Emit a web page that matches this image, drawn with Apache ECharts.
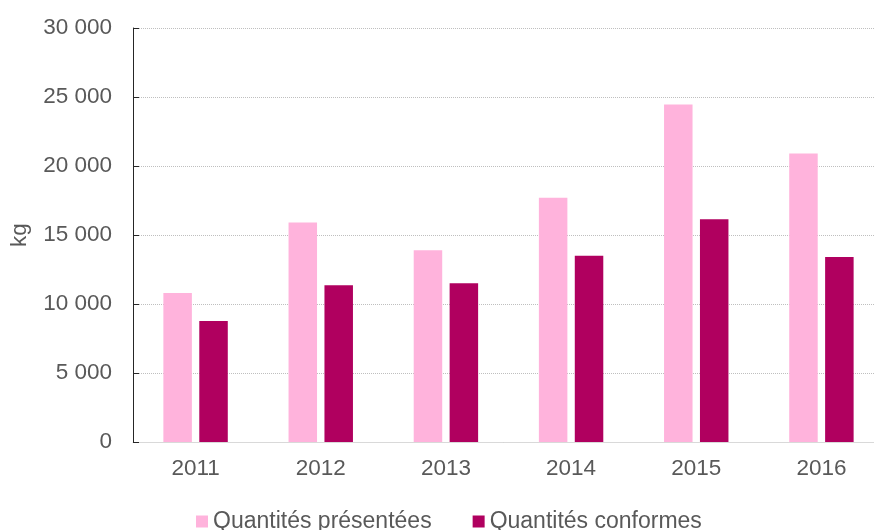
<!DOCTYPE html>
<html>
<head>
<meta charset="utf-8">
<script src="https://cdn.jsdelivr.net/npm/echarts@6/dist/echarts.min.js"></script>
<style>html,body{margin:0;padding:0;background:#fff}#c{width:874px;height:530px}</style>
</head>
<body>
<div id="c"></div>
<script>
const categories = ['2011', '2012', '2013', '2014', '2015', '2016'];
const presentees = [10800, 15900, 13900, 17700, 24450, 20900];
const conformes = [8770, 11350, 11500, 13500, 16150, 13400];
const seriesNames = ['Quantités présentées', 'Quantités conformes'];
const yAxisName = 'kg';

const FONT = 'Liberation Sans, Arial, sans-serif';
const TXT = '#595959';
const chart = echarts.init(document.getElementById('c'), null, {renderer: 'canvas'});
chart.setOption({
  animation: false,
  textStyle: {fontFamily: FONT},
  grid: {left: 133, top: 28, width: 751, bottom: 88, containLabel: false, outerBoundsMode: 'none'},
  legend: {
    left: 191, top: 505, itemWidth: 12, itemHeight: 12, itemGap: 41,
    icon: 'rect',
    textStyle: {color: TXT, fontSize: 23, fontFamily: FONT},
    data: seriesNames
  },
  xAxis: {
    type: 'category', data: categories,
    axisLine: {lineStyle: {color: '#d9d9d9', width: 1}},
    axisTick: {show: false},
    axisLabel: {color: TXT, fontSize: 22.5, fontFamily: FONT, margin: 15}
  },
  yAxis: {
    type: 'value', min: 0, max: 30000, interval: 5000,
    name: yAxisName, nameLocation: 'middle', nameGap: 102, nameRotate: 90,
    nameTextStyle: {color: TXT, fontSize: 22.5, fontFamily: FONT},
    axisLine: {show: true, lineStyle: {color: '#262626', width: 1}},
    axisTick: {show: true, inside: true, length: 6, lineStyle: {color: '#262626'}},
    axisLabel: {
      color: TXT, fontSize: 22.5, fontFamily: FONT, margin: 21,
      formatter: v => String(v).replace(/\B(?=(\d{3})+(?!\d))/g, ' ')
    },
    splitLine: {lineStyle: {color: '#bfbfbf', type: 'dotted', width: 1}}
  },
  series: [
    {name: seriesNames[0], type: 'bar', data: presentees, barWidth: 28.5, barGap: '26%',
     itemStyle: {color: '#FFB3DC'}},
    {name: seriesNames[1], type: 'bar', data: conformes, barWidth: 28.5, barGap: '26%',
     itemStyle: {color: '#B0005F'}}
  ]
});
</script>
</body>
</html>
